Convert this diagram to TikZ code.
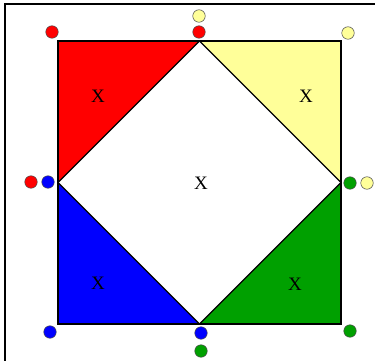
\documentclass[tikz,border=0pt]{standalone}
\usepackage{fontspec}
\setmainfont{Liberation Serif}
\usetikzlibrary{positioning,calc}
\definecolor{pyel}{RGB}{255,255,153}
\definecolor{pgrn}{RGB}{0,160,0}
\definecolor{pred}{RGB}{255,0,0}
\definecolor{pblu}{RGB}{0,0,255}

\begin{document}
\begin{tikzpicture}[
  x=1pt, y=-1pt,
  frame/.style  = {line width=2.4pt, black},
  tri/.style    = {fill=#1, draw=black, line width=1.2pt, line join=miter},
  edge/.style   = {draw=black, line width=2pt},
  dot/.style    = {circle, draw=black!70, line width=0.5pt, fill=#1,
                   minimum size=12.5pt, inner sep=0pt},
  lbl/.style    = {font=\fontsize{19}{20}\selectfont, inner sep=0pt}
]

\useasboundingbox (0,0) rectangle (375,361);

% ========================= outer frame (cut off) ===========================
\draw[frame] (5,361) -- (5,4) -- (375,4);

% ============================ square corners ===============================
\coordinate (tl) at (58,41);
\coordinate (tr) at (341,41);
\coordinate (br) at (341,324);
\coordinate (bl) at (58,324);
\coordinate (tm) at ($(tl)!0.5!(tr)$);
\coordinate (rm) at ($(tr)!0.5!(br)$);
\coordinate (bm) at ($(bl)!0.5!(br)$);
\coordinate (lm) at ($(tl)!0.5!(bl)$);

% ============================ corner triangles =============================
\filldraw[tri=pred] (tl) -- (tm) -- (lm) -- cycle;
\filldraw[tri=pyel] (tm) -- (tr) -- (rm) -- cycle;
\filldraw[tri=pblu] (lm) -- (bm) -- (bl) -- cycle;
\filldraw[tri=pgrn] (rm) -- (br) -- (bm) -- cycle;
\draw[edge] (tl) rectangle (br);

% ================================ labels ===================================
\node[lbl] (xred) at (98,96) {X};
\node[lbl] (xyel) at (306,96) {X};
\node[lbl] (xmid) at (201,183) {X};
\node[lbl] (xblu) at (98,283) {X};
\node[lbl] (xgrn) at (295,284) {X};

% ================================= dots ====================================
\node[dot=pred] (dtl)  at (52,32) {};
\node[dot=pred] (dtm)  at (199,32) {};
\node[dot=pyel] (dtm2) at (199,16) {};
\node[dot=pyel] (dtr)  at (348,33) {};
\node[dot=pred] (dlm2) at (31,182) {};
\node[dot=pblu] (dlm)  at (48,182) {};
\node[dot=pgrn] (drm)  at (350,183) {};
\node[dot=pyel] (drm2) at (367,183) {};
\node[dot=pblu] (dbl)  at (50,332) {};
\node[dot=pblu] (dbm)  at (201,333) {};
\node[dot=pgrn] (dbm2) at (201,351) {};
\node[dot=pgrn] (dbr)  at (350,331) {};

\end{tikzpicture}
\end{document}
